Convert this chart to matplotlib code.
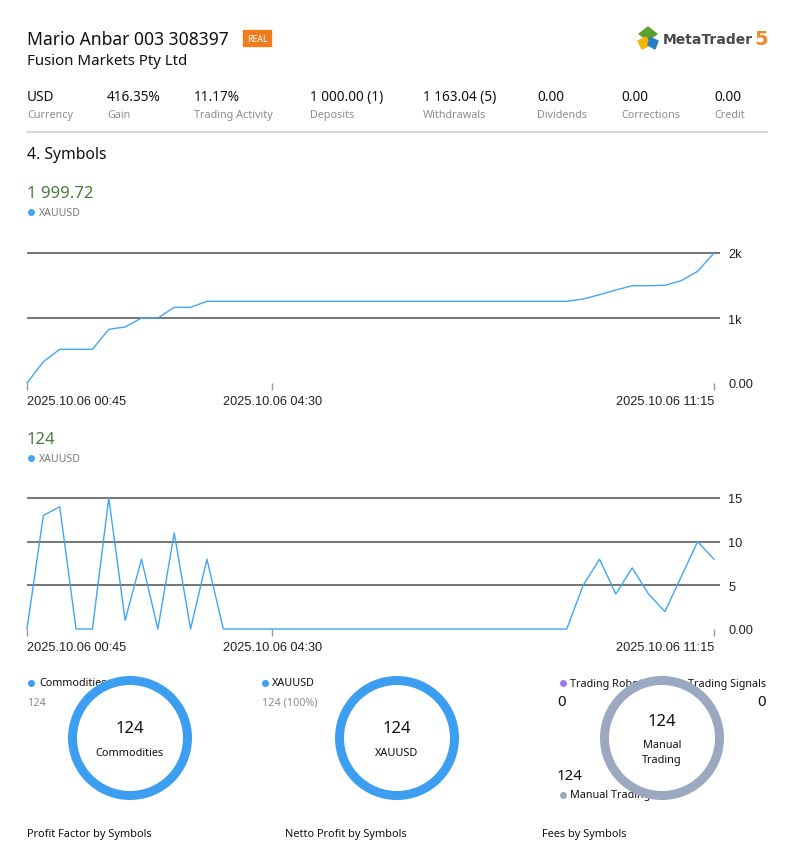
import matplotlib
matplotlib.use("Agg")
import matplotlib.pyplot as plt
import matplotlib.dates as mdates
import matplotlib.patches as mpatches
import pandas as pd

W, H = 791, 853
DPI = 100

times = pd.date_range("2025-10-06 00:45", "2025-10-06 11:15", freq="15min")
balance = [
    0, 328, 518, 518, 518, 826, 862, 1000, 1000, 1164, 1164,
    1257, 1257, 1257, 1257, 1257, 1257, 1257, 1257, 1257, 1257, 1257,
    1257, 1257, 1257, 1257, 1257, 1257, 1257, 1257, 1257, 1257, 1257, 1257,
    1292, 1358, 1430, 1497, 1497, 1503, 1574, 1718, 1999.72,
]
deals = [
    0, 13, 14, 0, 0, 15, 1, 8, 0, 11, 0, 8, 0,
    0, 0, 0, 0, 0, 0, 0, 0, 0, 0, 0, 0, 0, 0, 0, 0, 0, 0, 0, 0, 0,
    5, 8, 4, 7, 4, 2, 6, 10, 8,
]
xtick_times = ["2025-10-06 00:45", "2025-10-06 04:30", "2025-10-06 11:15"]
xtick_labels = ["2025.10.06 00:45", "2025.10.06 04:30", "2025.10.06 11:15"]
bal_ticks = [0, 1000, 2000]
bal_tick_labels = ["0.00", "1k", "2k"]
deal_ticks = [0, 5, 10, 15]
deal_tick_labels = ["0.00", "5", "10", "15"]

stat_values = ["USD", "416.35%", "11.17%", "1 000.00 (1)", "1 163.04 (5)", "0.00", "0.00", "0.00"]
stat_labels = ["Currency", "Gain", "Trading Activity", "Deposits", "Withdrawals",
               "Dividends", "Corrections", "Credit"]
stat_x = [27, 107, 194, 310, 423, 537, 621, 714]

sector_names = ["Commodities"]
sector_values = [124]
symbol_names = ["XAUUSD"]
symbol_values = [124]
type_names = ["Trading Robots", "Trading Signals", "Manual Trading"]
type_values = [0, 0, 124]

BLUE = "#42a5f5"
RING_BLUE = "#3b9ef0"
RING_GREY = "#9aa8c0"
GREEN = "#4a7d3c"
GRID = "#6a6a6a"
LABEL = "#8c8c8c"

plt.rcParams["font.family"] = ["Noto Sans", "DejaVu Sans"]

fig = plt.figure(figsize=(W / DPI, H / DPI), dpi=DPI)
fig.patch.set_facecolor("white")

# overlay in pixel coordinates for all page text
ov = fig.add_axes([0, 0, 1, 1])
ov.set_xlim(0, W)
ov.set_ylim(H, 0)
ov.axis("off")


def px_axes(x0, y0, x1, y1):
    a = fig.add_axes([x0 / W, 1 - y1 / H, (x1 - x0) / W, (y1 - y0) / H])
    a.set_facecolor("none")
    return a


# header
ov.text(27, 40, "Mario Anbar 003 308397", fontsize=12.6, va="center", color="#111")
ov.add_patch(mpatches.Rectangle((243, 31), 28, 16, color="#f07c1e"))
ov.text(257, 39.5, "REAL", fontsize=6.3, color="white", ha="center", va="center")
ov.text(27, 61, "Fusion Markets Pty Ltd", fontsize=10.8, va="center", color="#111")

# logo
ov.add_patch(mpatches.Polygon([(648, 28), (657, 35), (648, 41), (639, 35)], color="#5aa02c"))
ov.add_patch(mpatches.Polygon([(638, 42), (646, 38), (650, 46), (642, 50)], color="#f2b705"))
ov.add_patch(mpatches.Polygon([(650, 38), (658, 42), (655, 50), (648, 46)], color="#2a7fc1"))
ov.text(663, 40, "MetaTrader", fontsize=10, fontweight="bold", family="DejaVu Sans",
        va="center", color="#4a4a4a")
ov.text(754, 39, "5", fontsize=14, fontweight="bold", family="DejaVu Sans",
        va="center", color="#f08a24")

for x, v, lab in zip(stat_x, stat_values, stat_labels):
    ov.text(x, 97, v, fontsize=9.8, va="center", color="#111")
    ov.text(x, 115, lab, fontsize=7.8, va="center", color=LABEL)
ov.plot([27, 767], [133, 133], color="#d5d9e0", lw=1.5)

ov.text(27, 155, "4. Symbols", fontsize=11.3, va="center", color="#111")


def line_chart(ytop_px, ybot_px, ymax, yval_px, values, ticks, tick_labels, total_label, ty):
    ov.text(27, ty, total_label, fontsize=12, va="center", color=GREEN)
    ov.plot([31], [ty + 19], "o", ms=4, color=BLUE)
    ov.text(39, ty + 19, "XAUUSD", fontsize=7.6, va="center", color="#7a7a7a")

    ax = px_axes(27, ytop_px, 720, ybot_px)
    ax.plot(times, values, color=BLUE, lw=1.0, clip_on=False)
    x0 = mdates.date2num(times[0])
    x1 = mdates.date2num(times[-1])
    ax.set_xlim(x0, x1 + (x1 - x0) * 6 / 687)
    ax.set_ylim(0, ymax * (ybot_px - ytop_px) / (ybot_px - yval_px))
    for s in ax.spines.values():
        s.set_visible(False)
    ax.yaxis.tick_right()
    ax.set_yticks(ticks)
    ax.set_yticklabels(tick_labels, family="Liberation Sans")
    ax.grid(axis="y", color=GRID, lw=1.3)
    ax.get_ygridlines()[0].set_visible(False)
    ax.tick_params(axis="y", length=0, pad=6, labelsize=9.2, labelcolor="#222")
    ax.set_xticks([mdates.date2num(pd.Timestamp(t)) for t in xtick_times])
    ax.set_xticklabels(xtick_labels, family="Liberation Sans")
    ax.tick_params(axis="x", length=5, width=1, color="#9a9a9a", pad=4,
                   labelsize=9.2, labelcolor="#222")
    labs = ax.get_xticklabels()
    labs[0].set_ha("left")
    labs[-1].set_ha("right")
    return ax


line_chart(240, 384, 2000, 254, balance, bal_ticks, bal_tick_labels, "1 999.72", 194)
line_chart(485, 630, 15, 499, deals, deal_ticks, deal_tick_labels, str(sum(deals)), 440)


# donuts
def donut(cx, cy, values, colors):
    r = 65
    ax = px_axes(cx - r, cy - r, cx + r, cy + r)
    vals = [v for v in values if v > 0]
    cols = [c for v, c in zip(values, colors) if v > 0]
    ax.pie(vals, colors=cols, radius=1.0, startangle=90, counterclock=False,
           wedgeprops=dict(width=9 / 62, linewidth=0))
    ax.set_xlim(-r / 62, r / 62)
    ax.set_ylim(-r / 62, r / 62)
    ax.axis("off")


# sectors
ov.plot([31], [684], "o", ms=4, color=RING_BLUE)
ov.text(39, 684, sector_names[0], fontsize=7.8, va="center", color="#111")
ov.text(27, 703, str(sector_values[0]), fontsize=7.8, va="center", color=LABEL)
donut(130, 739, sector_values, [RING_BLUE])
ov.text(130, 729, str(sum(sector_values)), fontsize=12, ha="center", va="center", color="#111")
ov.text(130, 753, sector_names[0], fontsize=7.9, ha="center", va="center", color="#111")

# symbols
ov.plot([265], [684], "o", ms=4, color=RING_BLUE)
ov.text(272, 684, symbol_names[0], fontsize=7.8, va="center", color="#111")
ov.text(262, 703, "%d (100%%)" % symbol_values[0], fontsize=7.8, va="center", color=LABEL)
donut(397, 739, symbol_values, [RING_BLUE])
ov.text(397, 729, str(sum(symbol_values)), fontsize=12, ha="center", va="center", color="#111")
ov.text(397, 753, symbol_names[0], fontsize=7.9, ha="center", va="center", color="#111")

# trading types
ov.plot([563], [684], "o", ms=4, color="#9a7cf0")
ov.text(570, 684, type_names[0], fontsize=7.8, va="center", color="#111")
ov.text(766, 684, type_names[1], fontsize=7.8, ha="right", va="center", color="#111")
ov.text(557, 703, str(type_values[0]), fontsize=10.8, va="center", color="#111")
ov.text(766, 703, str(type_values[1]), fontsize=10.8, ha="right", va="center", color="#111")
ov.text(557, 777, str(type_values[2]), fontsize=10.8, va="center", color="#111")
ov.plot([563], [796], "o", ms=4, color=RING_GREY)
ov.text(570, 796, type_names[2], fontsize=7.8, va="center", color="#111")
donut(662, 739, type_values, ["#9a7cf0", "#f0b030", RING_GREY])
ov.text(662, 722, str(sum(type_values)), fontsize=12, ha="center", va="center", color="#111")
ov.text(662, 746, "Manual", fontsize=7.9, ha="center", va="center", color="#111")
ov.text(662, 761, "Trading", fontsize=7.9, ha="center", va="center", color="#111")

ov.text(27, 835, "Profit Factor by Symbols", fontsize=7.9, va="center", color="#111")
ov.text(285, 835, "Netto Profit by Symbols", fontsize=7.9, va="center", color="#111")
ov.text(542, 835, "Fees by Symbols", fontsize=7.9, va="center", color="#111")

fig.savefig("out.png", dpi=DPI)
